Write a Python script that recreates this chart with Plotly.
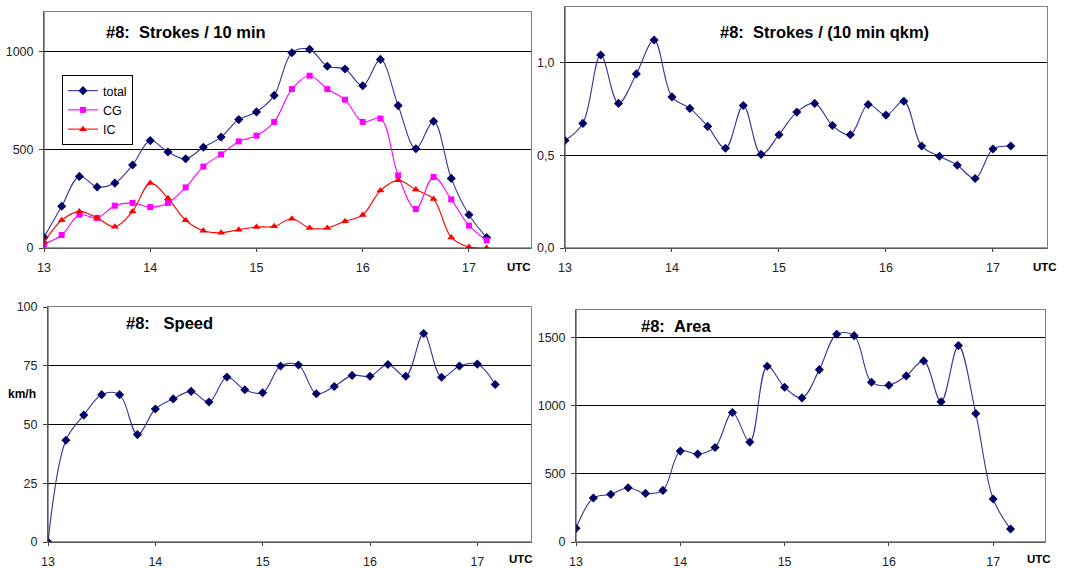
import plotly.graph_objects as go

# time axis: 13:00 .. 17:10 UTC in 10-minute steps (hours as decimals)
hours = [13 + k / 6 for k in range(26)]

total = [54, 212, 364, 310, 330, 422, 546, 488, 454, 512, 564, 653, 692, 776,
         993, 1010, 924, 910, 825, 959, 724, 505, 644, 354, 169, 53]
cg = [20, 66, 169, 153, 215, 229, 208, 229, 308, 414, 476, 542, 571, 641,
      808, 876, 808, 754, 641, 658, 369, 198, 361, 247, 114, 39]
ic = [30, 141, 186, 153, 108, 186, 330, 253, 141, 88, 78, 93, 107, 110,
      149, 102, 102, 136, 168, 292, 344, 297, 249, 54, 5, 0]
density = [0.58, 0.672, 1.041, 0.78, 0.939, 1.122, 0.815, 0.753, 0.656, 0.538,
           0.769, 0.505, 0.611, 0.733, 0.78, 0.661, 0.611, 0.774, 0.717, 0.792,
           0.55, 0.495, 0.446, 0.375, 0.534, 0.55]
speed = [0, 43.3, 54.0, 62.7, 62.7, 45.7, 56.6, 60.9, 64.1, 59.6, 70.2, 64.8,
         63.5, 74.9, 75.3, 63.1, 66.2, 70.9, 70.5, 75.5, 70.5, 88.7, 70.1,
         74.9, 75.7, 67.0]
area = [100, 322, 349, 398, 356, 378, 666, 644, 693, 949, 732, 1288, 1134,
        1056, 1263, 1522, 1512, 1171, 1149, 1217, 1327, 1027, 1439, 941, 315, 95]

x_ticks = [13, 14, 15, 16, 17]
x_tick_labels = ["13", "14", "15", "16", "17"]
NB = "\u00a0"
titles = ["#8:" + NB * 2 + "Strokes / 10 min",
          "#8:" + NB * 2 + "Strokes / (10 min qkm)",
          "#8:" + NB * 3 + "Speed",
          "#8:" + NB * 2 + "Area"]

FONT = "Arial, Liberation Sans, sans-serif"
NAVY_LINE = "#333399"
NAVY_MK = "#000066"

fig = go.Figure()


def add(y, xa, ya, name, lc, mc, sym, size, legend=False):
    fig.add_trace(go.Scatter(
        x=hours, y=y, xaxis=xa, yaxis=ya, name=name, mode="lines+markers",
        line=dict(color=lc, width=1.1, shape="spline", smoothing=1.0),
        marker=dict(color=mc, symbol=sym, size=size),
        showlegend=legend))


add(total, "x", "y", "total", NAVY_LINE, NAVY_MK, "diamond", 7, True)
add(cg, "x", "y", "CG", "#FF00FF", "#FF00FF", "square", 6, True)
add(ic, "x", "y", "IC", "#FF0000", "#FF0000", "triangle-up", 7, True)
add(density, "x2", "y2", "density", NAVY_LINE, NAVY_MK, "diamond", 7)
add(speed, "x3", "y3", "speed", NAVY_LINE, NAVY_MK, "diamond", 7)
add(area, "x4", "y4", "area", NAVY_LINE, NAVY_MK, "diamond", 7)

W, H = 1067, 568
panels = {
    # name: (left, right, top, bottom, xmax, ymax, yticks)
    "1": (44, 531, 12, 248, 17.584, 1200, [0, 500, 1000]),
    "2": (565, 1047, 7, 248, 17.505, 1.3, [0, 0.5, 1.0]),
    "3": (48, 531, 307, 542, 17.50, 100, [0, 25, 50, 75, 100]),
    "4": (576, 1045, 310, 542, 17.497, 1700, [0, 500, 1000, 1500]),
}

layout = dict(
    template="none",
    width=W, height=H, margin=dict(l=0, r=0, t=0, b=0, pad=0, autoexpand=False),
    paper_bgcolor="white", plot_bgcolor="white",
    separators=",.",
    font=dict(family=FONT, size=12, color="#111"),
    legend=dict(x=62 / W, y=1 - 75 / H, xanchor="left", yanchor="top",
                bordercolor="#000", borderwidth=1, bgcolor="white",
                font=dict(family=FONT, size=12.5, color="#000"),
                tracegroupgap=0, itemwidth=30),
)

annotations = []
shapes = []
for key, (l, r, t, b, xmax, ymax, yt) in panels.items():
    xk = "xaxis" if key == "1" else "xaxis" + key
    yk = "yaxis" if key == "1" else "yaxis" + key
    ax_id = "x" if key == "1" else "x" + key
    ay_id = "y" if key == "1" else "y" + key
    layout[xk] = dict(
        domain=[l / W, r / W], range=[13, xmax], anchor=ay_id, automargin=False,
        tickvals=x_ticks, ticktext=x_tick_labels,
        showgrid=False, zeroline=False,
        showline=True, linecolor="#808080", linewidth=1, mirror=True,
        ticks="outside", ticklen=3, tickcolor="#404040",
        ticklabelstandoff=5,
        tickfont=dict(family=FONT, size=12.5, color="#222"))
    layout[yk] = dict(
        domain=[1 - b / H, 1 - t / H], range=[0, ymax], anchor=ax_id, automargin=False,
        tickvals=yt, tickformat=".1f" if key == "2" else "d",
        showgrid=True, gridcolor="#000", gridwidth=1, zeroline=False,
        showline=True, linecolor="#808080", linewidth=1, mirror=True,
        ticks="outside", ticklen=4, tickcolor="#404040",
        ticklabelstandoff=3,
        tickfont=dict(family=FONT, size=12.5, color="#222"))
    # darker axis lines on left and bottom
    shapes.append(dict(type="line", xref="paper", yref="paper",
                       x0=l / W, x1=l / W, y0=1 - b / H, y1=1 - t / H,
                       line=dict(color="#303030", width=1)))
    shapes.append(dict(type="line", xref="paper", yref="paper",
                       x0=l / W, x1=r / W, y0=1 - b / H, y1=1 - b / H,
                       line=dict(color="#303030", width=1)))
layout["shapes"] = shapes

# titles
title_pos = [(104, 32), (718, 32), (124, 323), (639, 326)]
for txt, (px, py) in zip(titles, title_pos):
    annotations.append(dict(text="<b>" + txt + "</b>", xref="paper", yref="paper",
                            x=px / W, y=1 - py / H, xanchor="left", yanchor="middle",
                            showarrow=False,
                            font=dict(family=FONT, size=16.5, color="#000")))
# UTC labels
for px, py in [(519, 267), (1045, 267), (521, 559), (1039, 559)]:
    annotations.append(dict(text="<b>UTC</b>", xref="paper", yref="paper",
                            x=px / W, y=1 - py / H, xanchor="center", yanchor="middle",
                            showarrow=False,
                            font=dict(family=FONT, size=11.5, color="#000")))
annotations.append(dict(text="<b>km/h</b>", xref="paper", yref="paper",
                        x=22 / W, y=1 - 394 / H, xanchor="center", yanchor="middle",
                        showarrow=False, font=dict(family=FONT, size=12, color="#000")))
layout["annotations"] = annotations

fig.update_layout(**layout)
fig.write_html("out.html",
               config={"displayModeBar": False},
               post_script="document.body.style.margin='0';"
                           "document.body.style.overflow='hidden';")
